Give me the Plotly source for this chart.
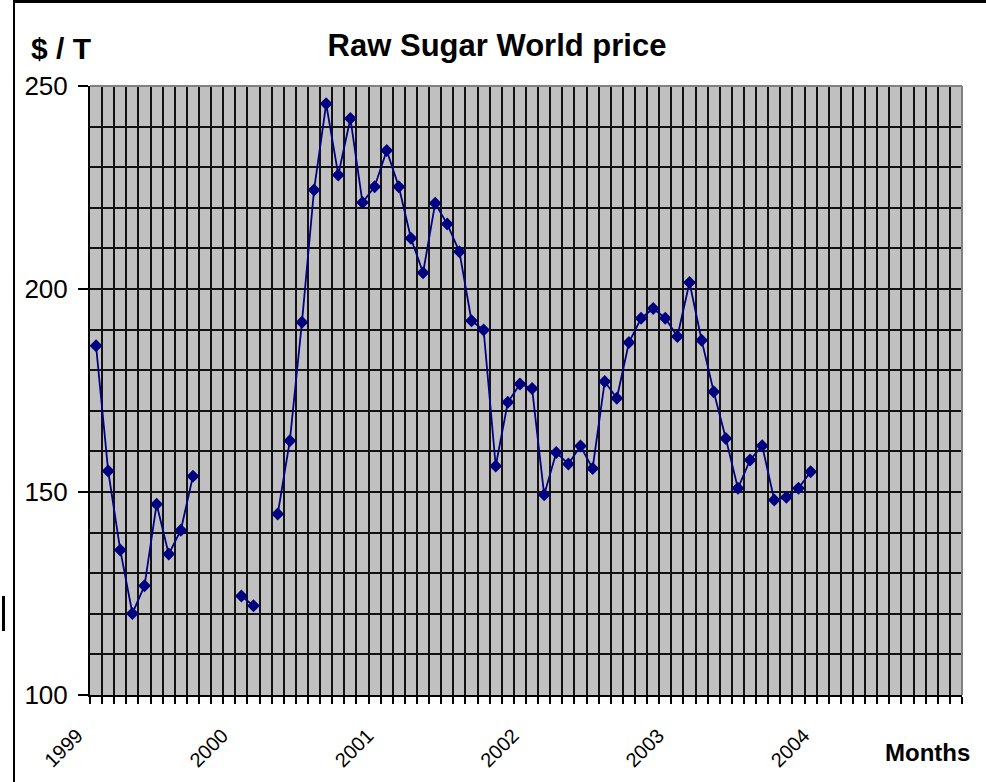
import plotly.graph_objects as go

# ---- data ----
years = [1999, 2000, 2001, 2002, 2003, 2004]
months = [f"{y}-{m:02d}" for y in years for m in range(1, 13)]
tick_text = [str(int(m[:4])) if m.endswith("-01") else "" for m in months]

price_1999 = [186.0, 155.2, 135.7, 120.1, 126.9, 147.0, 134.7, 140.6, 153.9, None, None, None]
price_2000 = [124.4, 122.0, None, 144.6, 162.6, 191.8, 224.4, 245.6, 228.1, 242.0, 221.3, 225.2]
price_2001 = [234.1, 225.2, 212.5, 204.0, 221.1, 216.0, 209.2, 192.2, 189.9, 156.4, 172.1, 176.6]
price_2002 = [175.5, 149.3, 159.7, 156.9, 161.3, 155.8, 177.2, 173.1, 186.8, 192.8, 195.2, 192.8]
price_2003 = [188.3, 201.6, 187.4, 174.7, 163.2, 150.9, 157.9, 161.4, 148.0, 148.7, 150.9, 155.0]
price_2004 = [None] * 12
prices = price_1999 + price_2000 + price_2001 + price_2002 + price_2003 + price_2004

y_ticks = [100, 150, 200, 250]

# ---- layout geometry (pixels) ----
W, H = 986, 782
L, R, T, B = 90, 24, 86, 87
PW, PH = W - L - R, H - T - B


def px(xp):
    return (xp - L) / PW


def py(yp):
    return (H - B - yp) / PH


fig = go.Figure()
fig.add_trace(go.Scatter(
    x=months, y=prices, mode="lines+markers",
    line=dict(color="#000080", width=1.8),
    marker=dict(symbol="diamond", size=10, color="#000080"),
    connectgaps=False, showlegend=False, cliponaxis=False,
))

fig.update_layout(
    width=W, height=H,
    margin=dict(l=L, r=R, t=T, b=B, pad=0),
    paper_bgcolor="white", plot_bgcolor="#C0C0C0",
    font=dict(family="Liberation Sans, Arial, sans-serif", color="black"),
    title=dict(text="<b>Raw Sugar World price</b>", x=497 / W, xanchor="center",
               y=1 - 45 / H, yanchor="middle", font=dict(size=31, color="black")),
    xaxis=dict(
        type="category", categoryorder="array", categoryarray=months,
        range=[-0.5, len(months) - 0.5],
        tickmode="array", tickvals=months, ticktext=tick_text,
        tickson="boundaries", ticks="outside", ticklen=7, tickwidth=2, tickcolor="black",
        tickangle=-45, tickfont=dict(size=20),
        ticklabelstandoff=19, ticklabelshift=-19,
        showgrid=True, gridcolor="#111111", gridwidth=2,
        showline=True, linecolor="black", linewidth=2,
        zeroline=False,
    ),
    yaxis=dict(
        range=[100, 250], tickmode="array", tickvals=y_ticks,
        ticks="outside", ticklen=10, tickwidth=2, tickcolor="black",
        tickfont=dict(size=26), ticklabelstandoff=5,
        showgrid=True, gridcolor="#111111", gridwidth=2,
        minor=dict(dtick=10, tick0=100, showgrid=True, gridcolor="#111111", gridwidth=2, ticks=""),
        showline=True, linecolor="black", linewidth=2,
        zeroline=False,
    ),
    annotations=[
        dict(text="<b>$ / T</b>", xref="paper", yref="paper", x=px(61), y=py(48),
             xanchor="center", yanchor="middle", showarrow=False, font=dict(size=30)),
        dict(text="<b>Months</b>", xref="paper", yref="paper", x=px(927), y=py(752),
             xanchor="center", yanchor="middle", showarrow=False, font=dict(size=24)),
    ],
    shapes=[
        # plot-area border (grey, top and right)
        dict(type="line", xref="paper", yref="paper", x0=0, x1=1, y0=1, y1=1,
             line=dict(color="#808080", width=2)),
        dict(type="line", xref="paper", yref="paper", x0=1, x1=1, y0=0, y1=1,
             line=dict(color="#808080", width=2)),
        # outer chart frame
        dict(type="line", xref="paper", yref="paper", x0=px(13), x1=px(W), y0=py(1.5), y1=py(1.5),
             line=dict(color="black", width=3)),
        dict(type="line", xref="paper", yref="paper", x0=px(14), x1=px(14), y0=py(0), y1=py(H),
             line=dict(color="black", width=2)),
        dict(type="line", xref="paper", yref="paper", x0=px(3.5), x1=px(3.5), y0=py(596), y1=py(631),
             line=dict(color="black", width=3)),
    ],
)

fig.write_html("out.html", config={"displayModeBar": False},
               post_script="document.body.style.margin='0';")
